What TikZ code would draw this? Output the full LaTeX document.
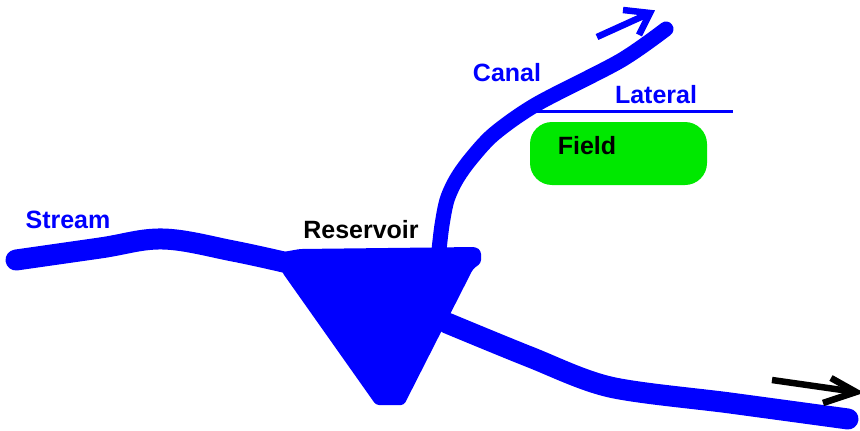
\documentclass[tikz,border=0pt]{standalone}
\usepackage{fontspec}
\setmainfont{Liberation Sans}
\definecolor{wblue}{RGB}{0,0,255}
\definecolor{fgreen}{RGB}{0,232,0}
\begin{document}
\begin{tikzpicture}[x=1pt,y=-1pt,
  lbl/.style={inner sep=0pt,font=\fontsize{25}{25}\selectfont\bfseries},
  river/.style={draw=wblue,line width=21pt,line cap=round,line join=round},
  canalline/.style={draw=wblue,line width=15pt,line cap=round,line join=round},
  arrowline/.style={line width=6.5pt,line cap=butt,line join=miter},
  fieldbox/.style={fill=fgreen,rounded corners=22pt,minimum width=177pt,minimum height=63pt,inner sep=0pt}]
\useasboundingbox[fill=white] (0,0) rectangle (860,431);
% coordinates
\coordinate (sA) at (16,260);
\coordinate (resL) at (288,263);
\coordinate (canalS) at (439,250);
\coordinate (canalE) at (666,29);
\coordinate (outS) at (447,323);
\coordinate (outE) at (848,419);
% stream
\draw[river] plot[smooth,tension=0.6] coordinates {(sA) (100,248) (163,239) (233,251) (resL)};
% reservoir
\fill[wblue,rounded corners=3pt] (283,252) -- (300,249) -- (476,247) -- (481,251) -- (481,263) -- (473,269) -- (404,405) -- (376,405) -- (282,272) -- cycle;
% outflow
\draw[river] plot[smooth,tension=0.5] coordinates {(outS) (530,357) (610,387) (730,403) (outE)};
% canal
\draw[canalline] plot[smooth,tension=0.5] coordinates {(canalS) (442,225) (447,200) (456,180) (470,160) (494,134) (537,104) (620,61) (canalE)};
% canal arrow
\coordinate (cTail) at (597,37);
\coordinate (cTip) at (650,13);
\draw[arrowline,wblue] (cTail) -- (cTip);
\draw[arrowline,wblue] (623,10) -- (cTip) -- (639,35);
% outflow arrow
\coordinate (oTail) at (772,380);
\coordinate (oTip) at (856,392);
\draw[arrowline,black] (oTail) -- (oTip);
\draw[arrowline,black] (831,378) -- (oTip) -- (823,403);
% lateral
\coordinate (latS) at (535,111);
\coordinate (latE) at (733,111);
\draw[wblue,line width=3pt] (latS) -- (latE);
% field
\node[fieldbox] (field) at (618.5,153.5) {};
\node[lbl,text=black] (fieldtxt) at (587,146) {Field};
% labels
\node[lbl,text=wblue] (streamlbl) at (68,220) {Stream};
\node[lbl,text=black] (reslbl) at (361,230) {Reservoir};
\node[lbl,text=wblue] (canallbl) at (507,73) {Canal};
\node[lbl,text=wblue] (latlbl) at (656,95) {Lateral};
\end{tikzpicture}
\end{document}
